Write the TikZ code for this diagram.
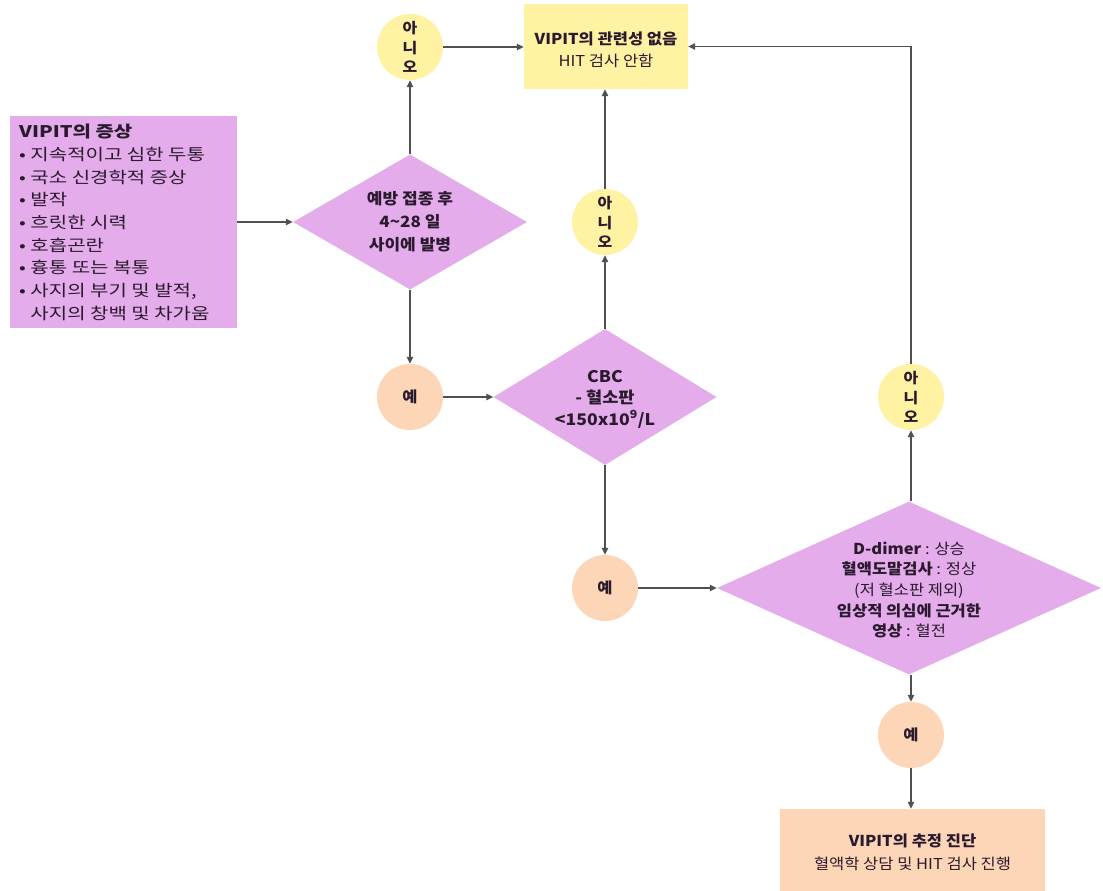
\documentclass[tikz,border=0pt]{standalone}
\usepackage{fontspec}
\setmainfont{Noto Sans CJK KR}[FakeStretch=1.1]
\newfontfamily\symfont{Noto Sans CJK KR}[FakeStretch=1.25]
\usetikzlibrary{shapes.geometric,arrows.meta}
\definecolor{pinkf}{RGB}{228,172,234}
\definecolor{yel}{RGB}{255,242,162}
\definecolor{peach}{RGB}{252,214,182}
\definecolor{txt}{RGB}{42,26,46}
\definecolor{ln}{RGB}{80,80,80}
\tikzset{
  boxshape/.style={rectangle, fill=#1, draw=none, inner sep=0},
  circ/.style={circle, fill=#1, minimum size=66pt, inner sep=0, align=center, text=txt,
    font=\bfseries\fontsize{14.5}{19.5}\selectfont},
  dia/.style={diamond, fill=pinkf, draw=none, inner sep=0},
  lbl/.style={align=center, text=txt, inner sep=0},
  arr/.style={draw=ln, line width=1.3pt, -{Triangle[length=7pt,width=6.5pt]}},
}
\begin{document}
\begin{tikzpicture}[x=1pt,y=-1pt]
\path[use as bounding box, fill=white] (0,0) rectangle (1103,891);

% symptom box
\node[boxshape=pinkf, minimum width=227pt, minimum height=212pt] (sym) at (123.5,222) {};
\node[anchor=north west, align=left, text=txt, inner sep=0,
      font=\symfont\fontsize{16}{22.7}\selectfont] (symt) at (19,124)
  {\textbf{VIPIT의 증상}\\
   • 지속적이고 심한 두통\\
   • 국소 신경학적 증상\\
   • 발작\\
   • 흐릿한 시력\\
   • 호흡곤란\\
   • 흉통 또는 복통\\
   • 사지의 부기 및 발적,\\
   \phantom{• }사지의 창백 및 차가움};

% diamond 1
\node[dia, minimum width=234pt, minimum height=135pt] (d1) at (410,222) {};
\node[lbl, font=\bfseries\fontsize{15.5}{23}\selectfont] (d1t) at (d1.center)
  {예방 접종 후\\4\textasciitilde28 일\\사이에 발병};

% circles
\node[circ=yel] (n1) at (410,47) {아\\니\\오};
\node[circ=yel] (n2) at (605,222) {아\\니\\오};
\node[circ=yel] (n3) at (911,397) {아\\니\\오};
\node[circ=peach, font=\bfseries\fontsize{15}{19}\selectfont] (y1) at (410,397) {예};
\node[circ=peach, font=\bfseries\fontsize{15}{19}\selectfont] (y2) at (605,588) {예};
\node[circ=peach, font=\bfseries\fontsize{15}{19}\selectfont] (y3) at (911,735) {예};

% yellow box
\node[boxshape=yel, minimum width=164pt, minimum height=85pt] (yb) at (606,46.5) {};
\node[lbl, font=\fontsize{15}{22}\selectfont] (ybt) at (606,50)
  {\textbf{VIPIT의 관련성 없음}\\HIT 검사 안함};

% CBC diamond
\node[dia, minimum width=223pt, minimum height=136pt] (d2) at (605,397) {};
\node[lbl, font=\bfseries\fontsize{16}{21.5}\selectfont] (d2t) at (605,399)
  {CBC\\- 혈소판\\<150x10\textsuperscript{9}/L};

% D-dimer diamond
\node[dia, minimum width=384pt, minimum height=173pt] (d3) at (909,588) {};
\node[lbl, font=\fontsize{15}{20.7}\selectfont] (d3t) at (909,590)
  {\textbf{D-dimer} : 상승\\\textbf{혈액도말검사} : 정상\\(저 혈소판 제외)\\
   \textbf{임상적 의심에 근거한}\\\textbf{영상} : 혈전};

% final box
\node[boxshape=peach, minimum width=265pt, minimum height=82pt] (fb) at (912.5,850) {};
\node[lbl, font=\fontsize{15}{23}\selectfont] (fbt) at (912.5,852)
  {\textbf{VIPIT의 추정 진단}\\혈액학 상담 및 HIT 검사 진행};

% connectors
\draw[arr] (sym.east) -- (d1.west);
\draw[arr] (d1.north) -- (n1.south);
\draw[arr] (n1.east) -- (n1.east -| yb.west);
\draw[arr] (d1.south) -- (y1.north);
\draw[arr] (y1.east) -- (d2.west);
\draw[arr] (d2.north) -- (n2.south);
\draw[arr] (n2.north) -- (n2.north |- yb.south);
\draw[arr] (d2.south) -- (y2.north);
\draw[arr] (y2.east) -- (d3.west);
\draw[arr] (d3.north -| n3.south) -- (n3.south);
\draw[arr] (n3.north) |- (yb.east);
\draw[arr] (d3.south -| y3.north) -- (y3.north);
\draw[arr] (y3.south) -- (fb.north -| y3.south);
\end{tikzpicture}
\end{document}
